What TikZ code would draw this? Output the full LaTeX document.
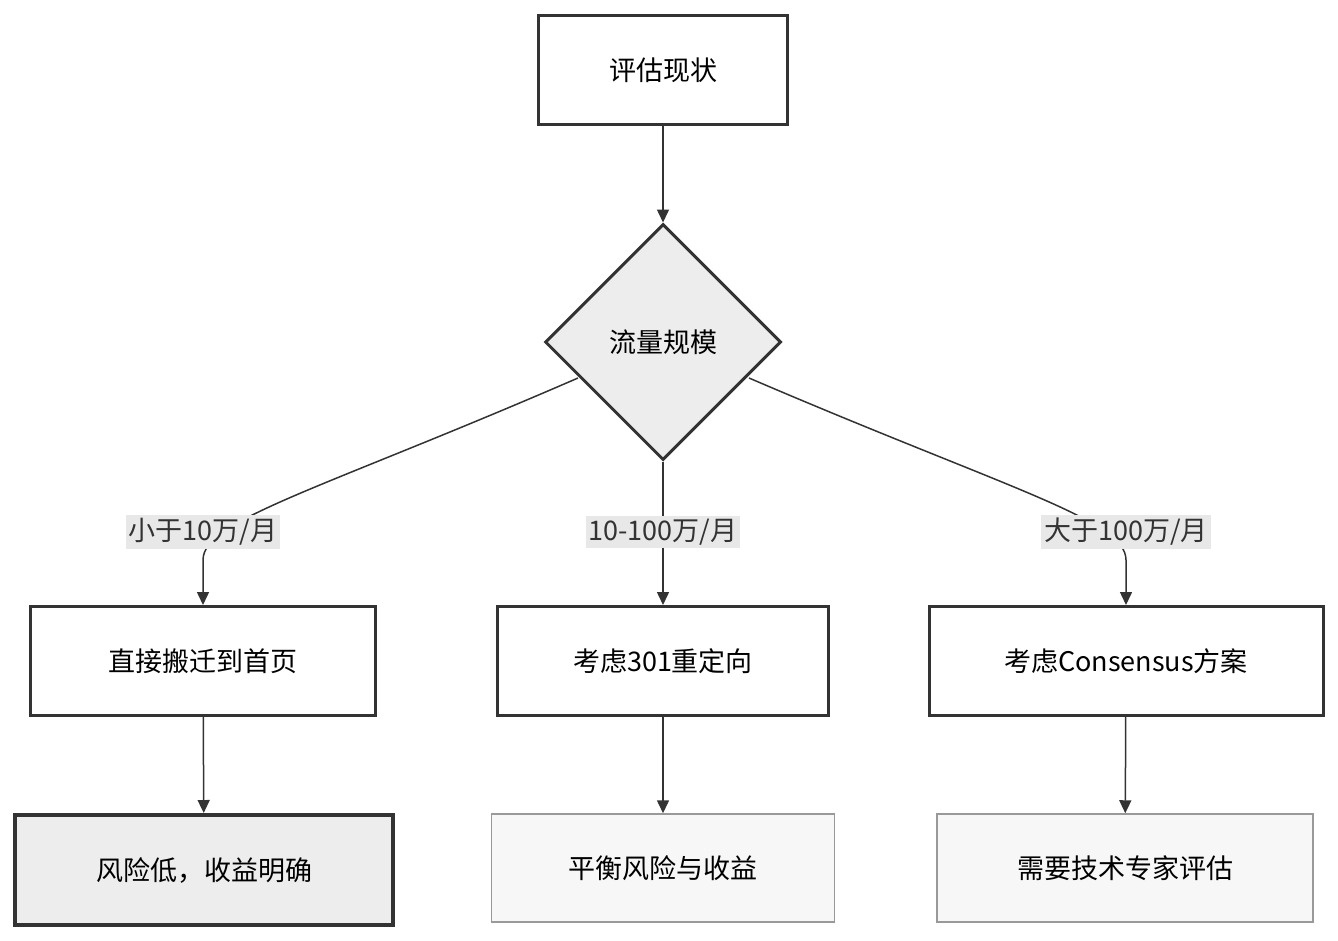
\documentclass[tikz,border=0pt]{standalone}
\usepackage{fontspec}
\setmainfont{Noto Sans CJK SC}
\usetikzlibrary{shapes.geometric,arrows.meta}
\definecolor{ln}{HTML}{333333}
\begin{document}
\begin{tikzpicture}[x=1pt,y=-1pt,
  font=\fontsize{27}{32}\selectfont,
  box/.style={draw=ln,line width=3pt,fill=white,rectangle,inner sep=0pt},
  soft/.style={draw=black!40,line width=1.5pt,fill=black!3,rectangle,inner sep=0pt},
  lab/.style={fill=black!9,inner sep=3pt,text=ln},
  arr/.style={draw=ln,line width=1.5pt,-{Triangle[length=13pt,width=12pt]}}]
\useasboundingbox (0,0) rectangle (1338,940);
\node[box,minimum width=249pt,minimum height=109pt] (top) at (663,70) {评估现状};
\node[diamond,draw=ln,line width=3pt,fill=black!7,minimum width=236pt,minimum height=236pt,inner sep=0pt] (d) at (663,342) {流量规模};
\node[box,minimum width=345pt,minimum height=109pt] (b1) at (203,661) {直接搬迁到首页};
\node[box,minimum width=331pt,minimum height=109pt] (b2) at (663,661) {考虑301重定向};
\node[box,minimum width=394pt,minimum height=109pt] (b3) at (1126,661) {考虑Consensus方案};
\node[box,line width=4pt,fill=black!7,minimum width=378pt,minimum height=110pt] (c1) at (204,870) {风险低，收益明确};
\node[soft,minimum width=343pt,minimum height=108pt] (c2) at (663,868) {平衡风险与收益};
\node[soft,minimum width=376pt,minimum height=108pt] (c3) at (1125,868) {需要技术专家评估};
\draw[arr] (top) -- (d);
\coordinate (l1) at (578,378);
\coordinate (r1) at (749,378);
\draw[arr] (l1) .. controls (320,490) and (203,520) .. (203,560) .. controls (203,575) .. (b1.north);
\draw[arr] (d.south) -- (b2.north);
\draw[arr] (r1) .. controls (1010,490) and (1126,520) .. (1126,560) .. controls (1126,575) .. (b3.north);
\node[lab] (L1) at (203,532) {小于10万/月};
\node[lab] (L2) at (663,532) {10-100万/月};
\node[lab] (L3) at (1126,532) {大于100万/月};
\draw[arr] (b1) -- (c1);
\draw[arr] (b2) -- (c2);
\draw[arr] (b3) -- (c3);
\end{tikzpicture}
\end{document}
